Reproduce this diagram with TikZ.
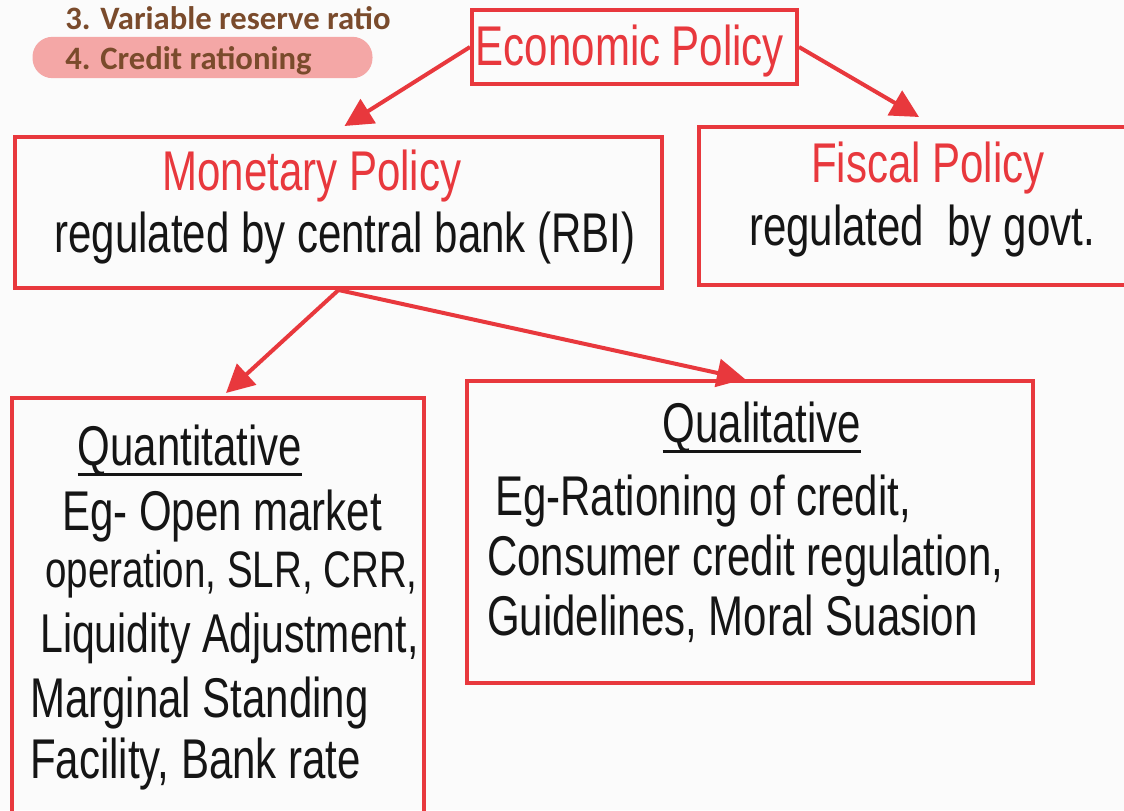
\documentclass[tikz,border=0pt]{standalone}
\usepackage{fontspec}
\usetikzlibrary{arrows.meta}
\newfontfamily\hand[FakeStretch=0.75]{Liberation Sans}
\newfontfamily\cali{Carlito}
\definecolor{pred}{HTML}{E8383D}
\definecolor{ink}{HTML}{151515}
\definecolor{brownt}{HTML}{7A4B2C}
\definecolor{pinkhl}{HTML}{F4A7A6}
\tikzset{
  box/.style={draw=pred, line width=3pt, fill=none, inner sep=0pt},
  arr/.style={draw=pred, line width=3pt, -{Triangle[length=21pt,width=21pt]}},
  ttl/.style={font=\hand\fontsize{42}{46}\selectfont, text=pred, inner sep=0pt, anchor=base},
  txt/.style={font=\hand\fontsize{42}{46}\selectfont, text=ink, inner sep=0pt},
  note/.style={font=\cali\bfseries\fontsize{24.5}{28}\selectfont, text=brownt, inner sep=0pt, anchor=base west},
  uline/.style={draw=ink, line width=2pt}
}
\begin{document}
\begin{tikzpicture}[x=0.75pt,y=-0.75pt]
\clip (0,0) rectangle (1124,810);
\fill[white!97!gray] (0,0) rectangle (1124,810);

% top-left notes
\node[fill=pinkhl, rounded corners=15pt, minimum width=255pt, minimum height=31pt, inner sep=0pt] (hl) at (202.5,57.5) {};
\node[note] (n3) at (65,29) {3. Variable reserve ratio};
\node[note] (n4) at (65,69) {4. Credit rationing};

% boxes
\node[box, minimum width=243.75pt, minimum height=55.5pt] (econ) at (634.5,47) {};
\node[box, minimum width=485.25pt, minimum height=113.25pt] (mon) at (338.5,212.5) {};
\node[box, minimum width=324pt, minimum height=118.5pt] (fis) at (915,206) {};
\node[box, minimum width=309pt, minimum height=318pt] (quant) at (218,610) {};
\node[box, minimum width=424.5pt, minimum height=226.5pt] (qual) at (750,532) {};

% texts
\node[ttl] (econT) at (630,65) {Economic Policy};
\node[ttl] (monT) at (312,190) {Monetary Policy};
\node[txt, anchor=base] (monS) at (345,252) {regulated by central bank (RBI)};
\node[ttl] (fisT) at (928,182) {Fiscal Policy};
\node[txt, anchor=base] (fisS) at (922,245) {regulated \ by govt.};

\node[txt, anchor=base] (qtT) at (190,465) {Quantitative};
\draw[uline] ([yshift=-7pt]qtT.base west) -- ([yshift=-7pt]qtT.base east);
\node[txt, anchor=base west] (q1) at (62,530) {Eg- Open market};
\node[txt, anchor=base west, font=\hand\fontsize{38.5}{42}\selectfont] (q2) at (45,587) {operation, SLR, CRR,};
\node[txt, anchor=base west, font=\hand\fontsize{41}{45}\selectfont] (q3) at (40,652) {Liquidity Adjustment,};
\node[txt, anchor=base west] (q4) at (30,717) {Marginal Standing};
\node[txt, anchor=base west] (q5) at (30,778) {Facility, Bank rate};

\node[txt, anchor=base] (qlT) at (762,442) {Qualitative};
\draw[uline] ([yshift=-7pt]qlT.base west) -- ([yshift=-7pt]qlT.base east);
\node[txt, anchor=base west] (l1) at (495,515) {Eg-Rationing of credit,};
\node[txt, anchor=base west] (l2) at (487,575) {Consumer credit regulation,};
\node[txt, anchor=base west] (l3) at (487,635) {Guidelines, Moral Suasion};

% arrows
\draw[arr] (econ.west) -- ([shift={(6,-9)}]mon.north);
\draw[arr] (econ.east) -- ([shift={(4,-8)}]fis.north);
\draw[arr] (mon.south) -- ([shift={(8,-3)}]quant.north);
\draw[arr] (mon.south) -- ([shift={(-5,0)}]qual.north);
\end{tikzpicture}
\end{document}
